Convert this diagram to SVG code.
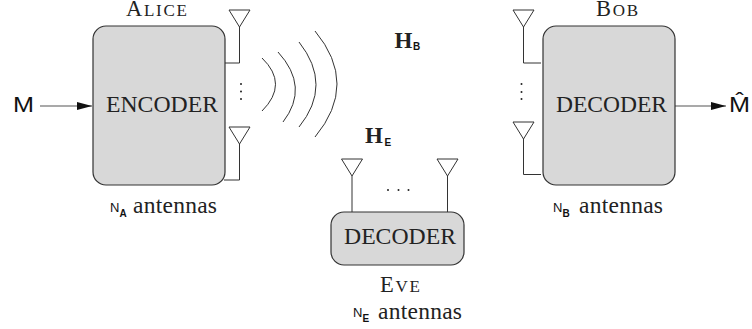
<svg xmlns="http://www.w3.org/2000/svg" width="752" height="329" viewBox="0 0 752 329">
<style>
.box{fill:#d8d8d8;stroke:#333;stroke-width:1.2}
.w{fill:none;stroke:#333;stroke-width:1}
.t{font-family:"Liberation Serif",serif;fill:#222}
.s{font-family:"Liberation Sans",sans-serif;fill:#111}
.l{font-size:23.500px}
.cap{font-size:22.500px}
.sc{font-size:17px}
.ant{font-size:23.500px}
.n{font-size:13px}
.sub{font-size:10px;font-weight:bold}
.h{font-size:23px;font-weight:bold}
.m{font-size:22px;font-weight:normal}
.d{fill:#222}
</style>
<defs>
<marker id="a" markerUnits="userSpaceOnUse" markerWidth="16" markerHeight="10" refX="15" refY="4" orient="auto"><path d="M0 0L15 4L0 8z" fill="#111"/></marker>
<path id="ant" d="M-10.500 0H10.500L0 17Z" class="w"/>
</defs>
<g id="connectors">
<path d="M40 106H92" stroke="#555" stroke-width="1.200" fill="none" marker-end="url(#a)"/>
<path d="M675 106H726" stroke="#555" stroke-width="1.200" fill="none" marker-end="url(#a)"/>
<path class="w" d="M239.500 27V63H225M239.500 144V180H224"/>
<path class="w" d="M523.500 27V63H541M523.500 139V174.500H541"/>
<path class="w" d="M352 176V212M447.500 176V212"/>
</g>
<g id="waves" class="w">
<path d="M262 58Q289 84 262 111"/>
<path d="M278 52Q310 87 283 122"/>
<path d="M299 42Q333 85 299 127"/>
<path d="M315 31Q359 84 315 137"/>
</g>
<g id="alice">
<rect class="box" x="93" y="26" width="132" height="159" rx="13"/>
<text class="t cap" x="126" y="16" textLength="61">A<tspan class="sc">LICE</tspan></text>
<text class="t l" x="106" y="112" textLength="112" lengthAdjust="spacingAndGlyphs">ENCODER</text>
<use href="#ant" x="239.500" y="10"/><use href="#ant" x="239.500" y="127"/>
<circle class="d" cx="241" cy="84" r="1"/><circle class="d" cx="241" cy="91.500" r="1"/><circle class="d" cx="241" cy="99" r="1"/>
<text class="s n" x="110" y="212">N<tspan class="sub" dy="5">A</tspan></text>
<text class="t ant" x="133" y="213" textLength="84">antennas</text>
</g>
<g id="input"><text class="s m" x="13" y="112" textLength="21" lengthAdjust="spacingAndGlyphs">M</text></g>
<g id="bob">
<rect class="box" x="543" y="26" width="132" height="159" rx="13"/>
<text class="t cap" x="596" y="16" textLength="42">B<tspan class="sc">OB</tspan></text>
<text class="t l" x="556" y="112" textLength="111" lengthAdjust="spacingAndGlyphs">DECODER</text>
<use href="#ant" x="523.500" y="10"/><use href="#ant" x="523.500" y="122"/>
<circle class="d" cx="521.500" cy="84" r="1"/><circle class="d" cx="521.500" cy="92" r="1"/><circle class="d" cx="521.500" cy="99" r="1"/>
<text class="s n" x="553" y="212">N<tspan class="sub" dy="5">B</tspan></text>
<text class="t ant" x="579" y="213" textLength="84">antennas</text>
</g>
<g id="output"><text class="s m" x="729" y="112" textLength="21" lengthAdjust="spacingAndGlyphs">M&#x302;</text></g>
<g id="eve">
<rect class="box" x="331" y="212" width="133" height="53" rx="13"/>
<text class="t l" x="344" y="244" textLength="112" lengthAdjust="spacingAndGlyphs">DECODER</text>
<use href="#ant" x="352" y="159"/><use href="#ant" x="447.500" y="159"/>
<circle class="d" cx="388" cy="190" r="1"/><circle class="d" cx="398.500" cy="190" r="1"/><circle class="d" cx="408.500" cy="190" r="1"/>
<text class="t cap" x="380" y="292" textLength="40">E<tspan class="sc">VE</tspan></text>
<text class="s n" x="353" y="317">N<tspan class="sub" dy="5">E</tspan></text>
<text class="t ant" x="378" y="319" textLength="84">antennas</text>
</g>
<g id="channels">
<text class="t h" x="394.500" y="48">H</text><text class="s sub" x="413" y="50">B</text>
<text class="t h" x="365" y="143">H</text><text class="s sub" x="384.500" y="146">E</text>
</g>
</svg>
